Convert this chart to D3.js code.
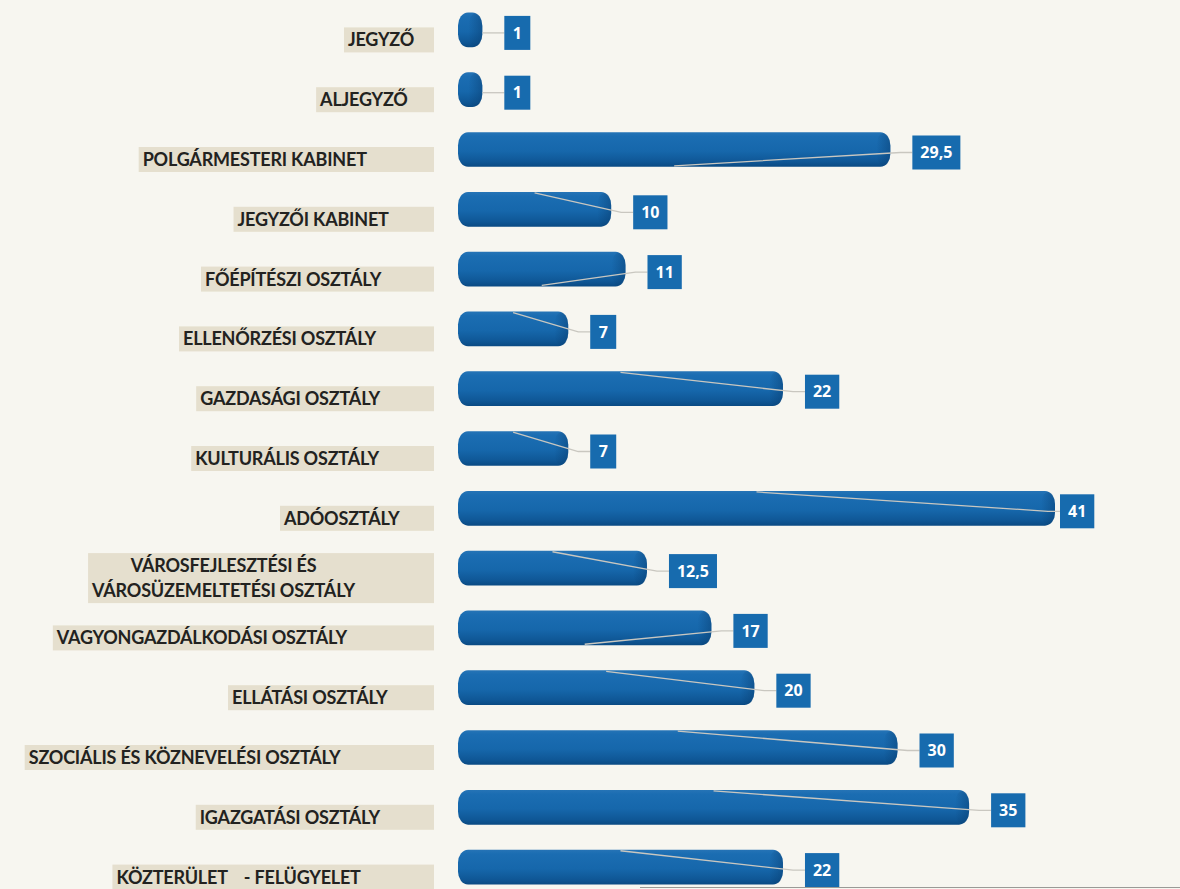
<!DOCTYPE html>
<html>
<head>
<meta charset="utf-8">
<script src="https://cdn.jsdelivr.net/npm/d3@7"></script>
<style>
  html, body { margin: 0; padding: 0; background: #f7f6f0; }
  svg { display: block; }
  .cat text { font-family: Lato, "Open Sans", sans-serif; font-weight: 700; font-size: 18px; letter-spacing: -0.2px; fill: #222220; white-space: pre; }
  .val text { font-family: "Open Sans", sans-serif; font-weight: 700; font-size: 16px; fill: #fff; }
</style>
</head>
<body>
<svg width="1180" height="889"></svg>
<script>
// osztályok és létszámok
const categories = [
  'JEGYZŐ',
  'ALJEGYZŐ',
  'POLGÁRMESTERI KABINET',
  'JEGYZŐI KABINET',
  'FŐÉPÍTÉSZI OSZTÁLY',
  'ELLENŐRZÉSI OSZTÁLY',
  'GAZDASÁGI OSZTÁLY',
  'KULTURÁLIS OSZTÁLY',
  'ADÓOSZTÁLY',
  'VÁROSFEJLESZTÉSI ÉS\nVÁROSÜZEMELTETÉSI OSZTÁLY',
  'VAGYONGAZDÁLKODÁSI OSZTÁLY',
  'ELLÁTÁSI OSZTÁLY',
  'SZOCIÁLIS ÉS KÖZNEVELÉSI OSZTÁLY',
  'IGAZGATÁSI OSZTÁLY',
  'KÖZTERÜLET    - FELÜGYELET'
]
const values = [1, 1, 29.5, 10, 11, 7, 22, 7, 41, 12.5, 17, 20, 30, 35, 22]
const xDomain = [0, 41]

const data = categories.map((c, i) => ({ cat: c, value: values[i], i }))

const svg = d3.select('svg')
const huLocale = d3.formatLocale({ decimal: ',', thousands: ' ', grouping: [3], currency: ['', ' Ft'] })
const fmt = huLocale.format('~g')

const barLeft = 458
const labelRight = 434
const x = d3.scaleLinear().domain(xDomain).range([468, 1055])
const y = d3.scaleBand().domain(categories).range([0, 897]).paddingInner(0.42).paddingOuter(0.21)

// leader lines that hit the lower edge of the bar
const bottomLeaders = new Set([2, 4, 10])

// cylinder gradient
const defs = svg.append('defs')
const grad = defs.append('linearGradient').attr('id', 'cyl').attr('x1', 0).attr('y1', 0).attr('x2', 0).attr('y2', 1)
grad.selectAll('stop')
  .data([[0, '#2674b6'], [0.12, '#1b6db2'], [0.55, '#1667ab'], [0.85, '#0f5796'], [1, '#0a4a83']])
  .join('stop')
  .attr('offset', d => d[0])
  .attr('stop-color', d => d[1])

const capGrad = defs.append('linearGradient').attr('id', 'cap').attr('x1', 0).attr('y1', 0).attr('x2', 1).attr('y2', 0)
capGrad.selectAll('stop')
  .data([[0, 'rgba(8,60,110,0)'], [1, 'rgba(8,60,110,0.45)']])
  .join('stop')
  .attr('offset', d => d[0])
  .attr('stop-color', d => d[1])

// category labels
const cat = svg.append('g').attr('class', 'cat')
  .selectAll('g')
  .data(data)
  .join('g')

cat.each(function(d) {
  const g = d3.select(this)
  const lines = d.cat.split('\n')
  const cy = y(d.cat) + y.bandwidth() / 2
  const lh = 25
  const box = g.append('rect').attr('fill', '#e5dfce')
  const texts = lines.map((ln, k) => g.append('text')
    .attr('text-anchor', 'middle')
    .attr('dy', '0.36em')
    .attr('y', cy + 10 + (k - (lines.length - 1) / 2) * lh)
    .text(ln))
  const w = d3.max(texts, t => t.node().getComputedTextLength())
  const end = labelRight - 0.3 * w
  texts.forEach(t => t.attr('x', end - w / 2))
  const h = lines.length * lh
  box.attr('x', end - w - 4)
    .attr('width', labelRight - (end - w - 4))
    .attr('y', cy + 10 - h / 2)
    .attr('height', h)
})

// bars
const bars = svg.append('g').selectAll('g')
  .data(data)
  .join('g')

bars.append('rect')
  .attr('x', barLeft)
  .attr('y', d => y(d.cat))
  .attr('width', d => x(d.value) - barLeft)
  .attr('height', y.bandwidth())
  .attr('rx', 10)
  .attr('ry', 13)
  .attr('fill', 'url(#cyl)')

bars.append('rect')
  .attr('x', d => x(d.value) - 14)
  .attr('y', d => y(d.cat) + 1)
  .attr('width', 14)
  .attr('height', y.bandwidth() - 2)
  .attr('rx', 9)
  .attr('ry', 13)
  .attr('fill', 'url(#cap)')

// value labels with leader lines
const val = svg.append('g').attr('class', 'val')
  .selectAll('g')
  .data(data)
  .join('g')

val.each(function(d) {
  const g = d3.select(this)
  const cy = y(d.cat) + y.bandwidth() / 2 + 3
  const bx = x(d.value) + (d.value > 35 ? 5 : 22)
  const line = g.append('path')
    .attr('fill', 'none')
    .attr('stroke', '#c9c7c0')
    .attr('stroke-width', 1.3)
  const rect = g.append('rect').attr('fill', '#176bae')
  const t = g.append('text')
    .attr('y', cy)
    .attr('dy', '0.36em')
    .attr('text-anchor', 'middle')
    .text(fmt(d.value))
  const tw = t.node().getComputedTextLength()
  const bw = Math.max(26, tw + 16)
  rect.attr('x', bx).attr('y', cy - 17).attr('width', bw).attr('height', 34)
  t.attr('x', bx + bw / 2)

  const mid = (barLeft + x(d.value)) / 2
  const ey = bottomLeaders.has(d.i) ? y(d.cat) + y.bandwidth() - 1 : y(d.cat) + 1
  if (d.value <= 1) {
    line.attr('d', `M${x(d.value)},${cy}L${bx},${cy}`)
  } else {
    line.attr('d', `M${mid},${ey}L${bx - 12},${cy}L${bx},${cy}`)
  }
})

// scan edge at the bottom
svg.append('line')
  .attr('x1', 640).attr('x2', 1180)
  .attr('y1', 887.5).attr('y2', 887.5)
  .attr('stroke', '#9a9a96')
  .attr('stroke-width', 1)
</script>
</body>
</html>
